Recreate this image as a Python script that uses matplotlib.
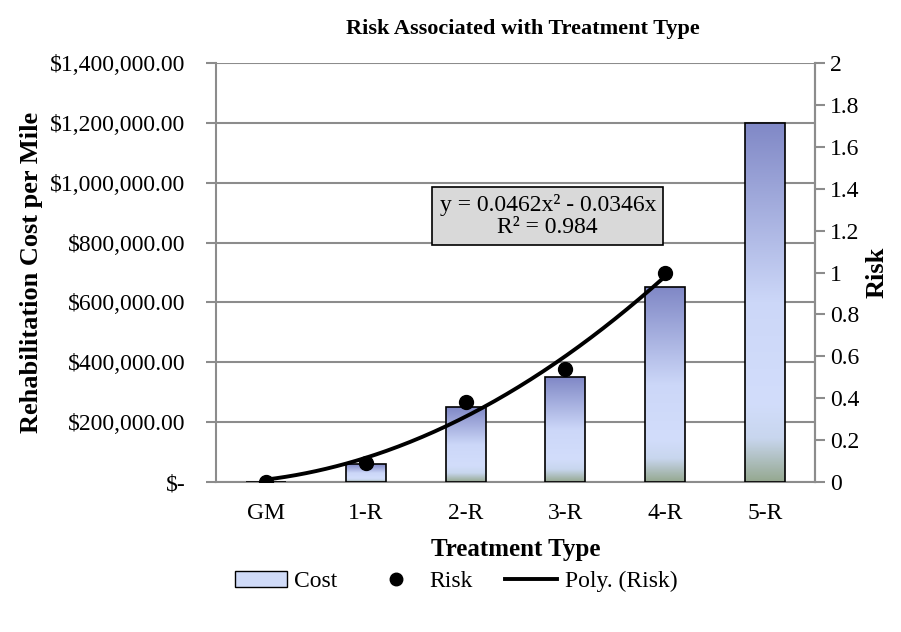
import matplotlib

matplotlib.use("Agg")
import matplotlib.pyplot as plt  # noqa: E402
import numpy as np  # noqa: E402
from matplotlib.colors import LinearSegmentedColormap  # noqa: E402
from matplotlib.lines import Line2D  # noqa: E402
from matplotlib.patches import Patch  # noqa: E402
from matplotlib.ticker import FuncFormatter, MultipleLocator  # noqa: E402

plt.rcParams["font.family"] = ["Liberation Serif", "DejaVu Serif"]

treatments = ["GM", "1-R", "2-R", "3-R", "4-R", "5-R"]
cost = [0, 60000, 250000, 350000, 650000, 1200000]
risk = [0.0, 0.09, 0.38, 0.54, 1.0]
poly_coef = [0.0462, -0.0346, 0.0]   # trendline as shown in the chart

INK, AXIS = "#000000", "#8c8c8c"
bar_cmap = LinearSegmentedColormap.from_list(
    "bar", [(0.0, "#95a890"), (0.12, "#c8d6ee"), (0.22, "#d2ddfb"),
            (0.5, "#ccd7f8"), (1.0, "#8088c6")])

fig = plt.figure(figsize=(9.01, 6.32), dpi=100)
ax = fig.add_axes([0.2397, 0.2373, 0.6648, 0.663])
ax2 = ax.twinx()

x = np.arange(len(treatments))
bars = ax.bar(x, cost, width=0.4, facecolor="none", edgecolor=INK,
              linewidth=1.2, zorder=3)
grad = np.linspace(0, 1, 256).reshape(-1, 1)
for b in bars:
    h = b.get_height()
    if h <= 0:
        continue
    im = ax.imshow(grad, cmap=bar_cmap, origin="lower", aspect="auto",
                   extent=(b.get_x(), b.get_x() + b.get_width(), 0, h),
                   zorder=2)
    im.set_clip_path(b)

ax.set_xlim(-0.5, len(treatments) - 0.5)
ax.set_ylim(0, 1400000)
ax.yaxis.set_major_locator(MultipleLocator(200000))
ax.yaxis.set_major_formatter(FuncFormatter(
    lambda v, _: "$-" if v == 0 else f"${v:,.2f}"))
ax.set_xticks(x)
ax.set_xticklabels(treatments)
ax.tick_params(axis="x", length=0, labelsize=17, pad=15, colors=INK)
ax.tick_params(axis="y", length=7, width=1.5, colors=AXIS, labelcolor=INK,
               labelsize=17, pad=15)
ax.grid(axis="y", color=AXIS, linewidth=1.5)
ax.set_axisbelow(True)
ax.spines["top"].set_visible(False)
for side in ("left", "bottom", "right"):
    ax.spines[side].set_color(AXIS)
    ax.spines[side].set_linewidth(1.5)
ax.set_ylabel("Rehabilitation Cost per Mile", fontsize=19, fontweight="bold",
              labelpad=5)
ax.set_xlabel("Treatment Type", fontsize=18, fontweight="bold", labelpad=10)

xr = np.arange(len(risk))
ax2.plot(xr, risk, "o", color=INK, markersize=10, zorder=5)
xs = np.linspace(0, len(risk) - 1, 200)
ax2.plot(xs, np.polyval(poly_coef, xs + 1), color=INK, linewidth=2.8,
         zorder=4)
ax2.set_ylim(0, 2)
ax2.yaxis.set_major_locator(MultipleLocator(0.2))
ax2.yaxis.set_major_formatter(FuncFormatter(lambda v, _: f"{v:g}"))
ax2.tick_params(axis="y", length=7, width=1.5, colors=AXIS, labelcolor=INK,
                labelsize=17, pad=4)
for side in ("top", "left", "bottom"):
    ax2.spines[side].set_visible(False)
ax2.spines["right"].set_color(AXIS)
ax2.spines["right"].set_linewidth(1.5)
ax2.set_ylabel("Risk", fontsize=19, fontweight="bold", labelpad=4)

ax2.text(0.554, 0.635, "y = 0.0462x² - 0.0346x\nR² = 0.984",
         transform=ax.transAxes, ha="center", va="center", fontsize=17,
         linespacing=1.1, zorder=6,
         bbox=dict(boxstyle="square,pad=0.3", facecolor="#d9d9d9",
                   edgecolor=INK, linewidth=1.2))

fig.suptitle("Risk Associated with Treatment Type", fontsize=16,
             fontweight="bold", x=0.58, y=0.97)

handles = [
    Patch(facecolor="#d0dbf8", edgecolor=INK, linewidth=1.0),
    Line2D([], [], marker="o", color=INK, linestyle="none", markersize=9),
    Line2D([], [], color=INK, linewidth=2.8),
]
fig.legend(handles, ["Cost", "Risk", "Poly. (Risk)"], loc="center",
           bbox_to_anchor=(0.506, 0.08), ncol=3, frameon=False, fontsize=17,
           handlelength=2.2, handletextpad=0.3, columnspacing=1.4)

fig.savefig("out.png", dpi=100)
